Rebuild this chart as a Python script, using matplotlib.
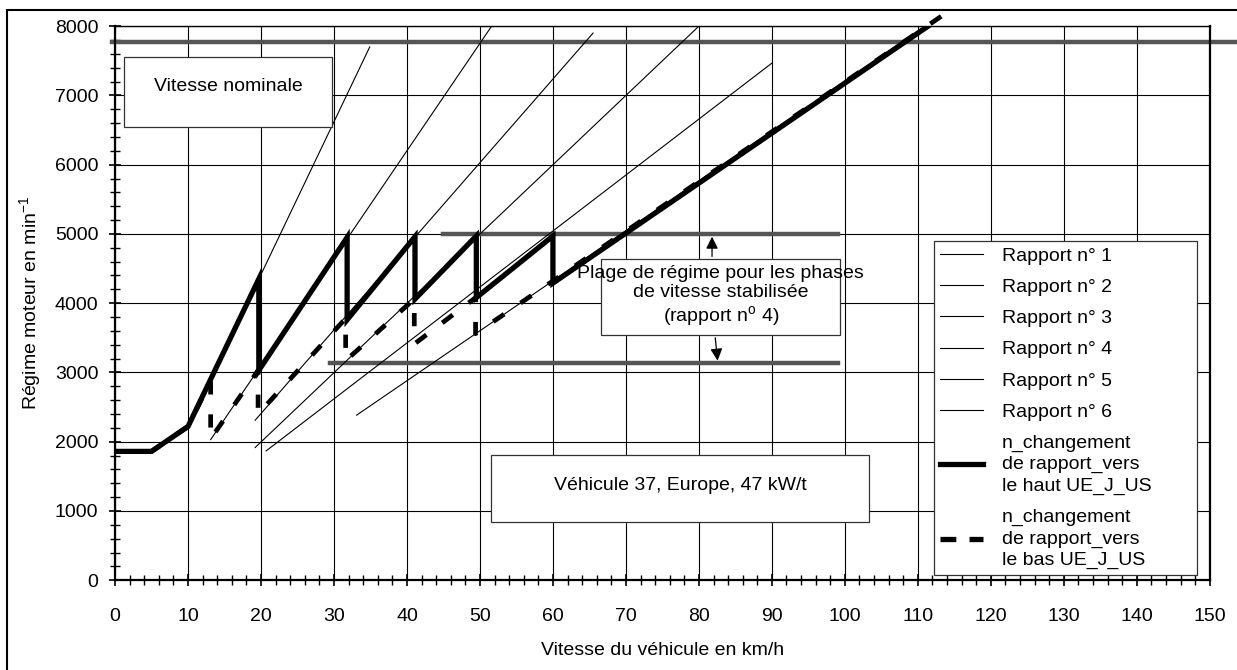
import matplotlib
matplotlib.use("Agg")
import matplotlib.pyplot as plt
from matplotlib.lines import Line2D
from matplotlib.patches import Rectangle
from matplotlib.ticker import MultipleLocator

plt.rcParams['font.family'] = ['Liberation Sans', 'DejaVu Sans']
plt.rcParams['mathtext.fontset'] = 'custom'
plt.rcParams['mathtext.rm'] = 'Liberation Sans'
plt.rcParams['mathtext.it'] = 'Liberation Sans:italic'

FS = 14

# gear lines (start / end points)
gear_labels = ['Rapport n° 1', 'Rapport n° 2', 'Rapport n° 3',
               'Rapport n° 4', 'Rapport n° 5', 'Rapport n° 6']
gear_v_start = [10.0, 13.1, 19.2, 19.2, 20.7, 33.1]
gear_n_start = [2210, 2030, 2310, 1916, 1867, 2383]
gear_v_end = [34.9, 51.6, 65.5, 79.9, 90.0, 111.0]
gear_n_end = [7700, 8000, 7900, 7990, 7466, 8000]

# upshift curve
up_v = [0, 5, 10, 19.7, 19.7, 31.8, 31.8, 41.1, 41.1, 49.5, 49.5, 60, 60, 111.4]
up_n = [1860, 1860, 2220, 4350, 3030, 4950, 3760, 4960, 4060, 4970, 4080, 4970, 4290, 8000]

# downshift curve
down_v = [0, 5, 10, 13.1, 13.1, 19.6, 19.6, 31.6, 31.6, 41.0, 41.0, 49.4, 49.4, 113.6]
down_n = [1860, 1860, 2220, 2880, 2040, 3030, 2400, 3780, 3170, 4060, 3410, 4080, 3560, 8170]

rated_speed = 7770
range_high = 5000
range_low = 3130

fig = plt.figure(figsize=(12.37, 6.70), dpi=100)
ax = fig.add_axes([0.093, 0.134, 0.885, 0.827])

# outer frame of the figure
fig.patches.append(Rectangle((0.0057, -0.2), 1.2, 1.185, transform=fig.transFigure,
                             fill=False, edgecolor='black', linewidth=1.5))

for i in range(6):
    ax.plot([gear_v_start[i], gear_v_end[i]], [gear_n_start[i], gear_n_end[i]],
            color='black', linewidth=0.8, zorder=3)

ax.plot(up_v, up_n, color='black', linewidth=3.8, solid_joinstyle='miter', zorder=4)
ax.plot(down_v, down_n, color='black', linewidth=3.4, linestyle=(0, (2.8, 4.2)),
        zorder=5, clip_on=False)

# grey reference lines
ax.plot([-0.4, 160], [rated_speed, rated_speed], color='#555555', linewidth=3.2,
        zorder=2, clip_on=False)
ax.plot([45, 99], [range_high, range_high], color='#555555', linewidth=3.2, zorder=2)
ax.plot([29.5, 99], [range_low, range_low], color='#555555', linewidth=3.2, zorder=2)

# text boxes
ax.add_patch(Rectangle((1.2, 6540), 28.5, 1010, facecolor='white', edgecolor='#333333',
                       linewidth=0.9, zorder=6))
ax.text(15.5, 7130, 'Vitesse nominale', ha='center', va='center', fontsize=FS, zorder=7)

ax.add_patch(Rectangle((66.6, 3540), 32.8, 1095, facecolor='white', edgecolor='#333333',
                       linewidth=0.9, zorder=6))
ax.text(83.0, 4095, 'Plage de régime pour les phases\nde vitesse stabilisée\n'
        r'(rapport n$^\mathrm{o}$ 4)', ha='center', va='center', fontsize=FS,
        linespacing=1.15, zorder=7)
ax.annotate('', xy=(81.8, range_high), xytext=(81.8, 4635),
            arrowprops=dict(arrowstyle='-|>', color='black', lw=0.9, mutation_scale=18),
            zorder=7)
ax.annotate('', xy=(82.6, range_low), xytext=(82.2, 3540),
            arrowprops=dict(arrowstyle='-|>', color='black', lw=0.9, mutation_scale=18),
            zorder=7)

ax.add_patch(Rectangle((51.5, 840), 51.8, 965, facecolor='white', edgecolor='#333333',
                       linewidth=0.9, zorder=6))
ax.text(77.4, 1370, 'Véhicule 37, Europe, 47 kW/t', ha='center', va='center',
        fontsize=FS, zorder=7)

# axes
ax.set_xlim(0, 150)
ax.set_ylim(0, 8000)
ax.xaxis.set_major_locator(MultipleLocator(10))
ax.xaxis.set_minor_locator(MultipleLocator(2))
ax.yaxis.set_major_locator(MultipleLocator(1000))
ax.yaxis.set_minor_locator(MultipleLocator(200))
ax.grid(True, which='major', color='black', linewidth=0.8)
ax.set_axisbelow(True)
ax.tick_params(which='both', direction='inout', labelsize=FS)
ax.tick_params(which='major', length=8, width=1.2)
ax.tick_params(which='minor', length=7, width=1.0)
ax.tick_params(axis='x', which='major', pad=16)
ax.tick_params(axis='y', which='major', pad=8)
for s in ax.spines.values():
    s.set_linewidth(1.6)
ax.spines['top'].set_linewidth(1.0)

ax.set_xlabel('Vitesse du véhicule en km/h', fontsize=FS)
ax.set_ylabel(r'Régime moteur en min$^{-1}$', fontsize=FS)
ax.xaxis.set_label_coords(0.5, -0.112)
ax.yaxis.set_label_coords(-0.066, 0.5)

handles = [Line2D([], [], color='black', linewidth=0.8) for _ in range(6)]
handles.append(Line2D([], [], color='black', linewidth=3.8))
handles.append(Line2D([], [], color='black', linewidth=3.8, linestyle=(0, (3, 2.5))))
labels = gear_labels + ['n_changement\nde rapport_vers\nle haut UE_J_US',
                        'n_changement\nde rapport_vers\nle bas UE_J_US']
leg = ax.legend(handles, labels, loc='lower left', bbox_to_anchor=(0.748, 0.009, 0.24, 0.6),
                mode='expand', fontsize=FS, frameon=True, fancybox=False, framealpha=1,
                edgecolor='#333333', handlelength=2.2, handletextpad=1.0,
                labelspacing=0.7, borderpad=0.3, borderaxespad=0)
for t in leg.get_texts():
    t.set_linespacing(1.35)
leg.get_frame().set_linewidth(0.9)
leg.set_zorder(8)

fig.savefig('out.png', dpi=100)
